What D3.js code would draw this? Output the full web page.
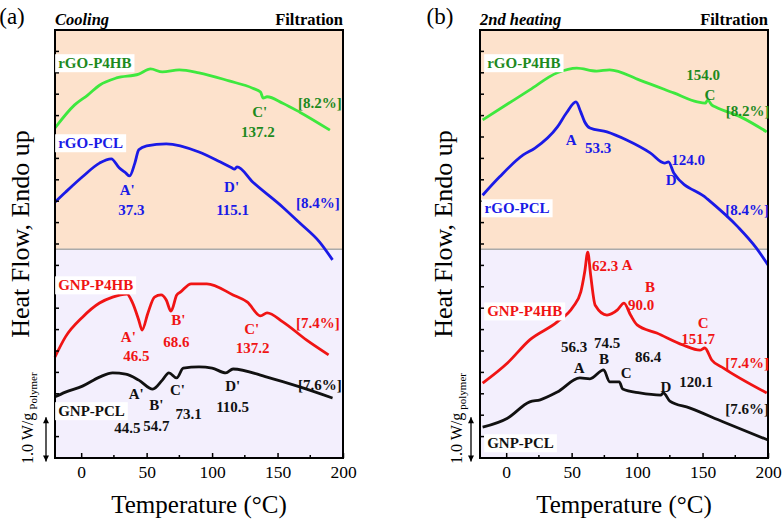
<!DOCTYPE html>
<html>
<head>
<meta charset="utf-8">
<script src="https://cdn.jsdelivr.net/npm/d3@7"></script>
<style>
  body { margin: 0; background: #fff; }
  svg text { font-family: "Liberation Serif", "Times New Roman", serif; }
</style>
</head>
<body>
<svg id="chart" width="782" height="520"></svg>
<script>
// ---- data: [temperature °C, heat flow (W/g, offset)] ----
var coolP4HB_rGO = [[-20,7.71],[-5,8.25],[5,8.48],[14,8.71],[27,8.88],[44,8.97],[53,9.09],[62,9.02],[75,9.07],[90,9.00],[113,8.81],[131,8.64],[137,8.55],[139,8.41],[142,8.44],[154,8.29],[167,8.08],[190,7.66]];
var coolPCL_rGO = [[-20,5.98],[-12,6.21],[1,6.57],[14,6.89],[23,6.99],[29,6.78],[34,6.66],[37,6.59],[41,6.89],[44,7.20],[50,7.29],[65,7.34],[90,7.15],[106,6.92],[115,6.78],[117,6.75],[119,6.80],[131,6.45],[154,5.86],[167,5.49],[182,5.05],[192,4.63]];
var coolP4HB_GNP = [[-20,2.36],[-12,2.83],[1,3.29],[14,3.62],[24,3.76],[35,3.83],[39,3.64],[44,3.22],[46.5,2.99],[51,3.39],[56,3.76],[61,3.81],[65,3.69],[68.6,3.43],[73,3.81],[76,3.88],[84,4.07],[96,4.07],[116,3.81],[127,3.64],[137,3.32],[142,3.39],[154,3.18],[172,2.76],[189,2.41]];
var coolPCL_GNP = [[-20,1.43],[-12,1.54],[1,1.68],[14,1.89],[24,1.99],[34,1.96],[44,1.82],[54.7,1.61],[62,1.82],[67,1.99],[73,1.87],[78,2.10],[90,2.13],[100,2.10],[110.5,1.99],[116,2.08],[142,1.89],[167,1.66],[192,1.40]];

var heatP4HB_rGO = [[-18,7.90],[1,8.27],[18,8.60],[39,9.00],[54,9.11],[69,9.04],[79,9.07],[102,8.83],[128,8.53],[146,8.32],[152,8.29],[154,8.36],[157,8.25],[160,8.20],[179,7.97],[199,7.62]];
var heatPCL_rGO = [[-18,6.14],[-5,6.57],[13,7.08],[22,7.24],[39,7.73],[46,8.06],[53.3,8.32],[57,8.08],[60,7.85],[64,7.71],[77,7.62],[92,7.43],[110,7.13],[121,6.89],[124,6.92],[128,6.66],[153,6.07],[177,5.40],[191,4.91],[200,4.51]];
var heatP4HB_GNP = [[-18,1.75],[1,2.22],[18,2.76],[39,3.18],[51,3.53],[57,3.88],[60,4.35],[62.3,4.81],[64.5,4.28],[68,3.57],[77,3.34],[85,3.46],[90,3.62],[95,3.34],[100,3.11],[115,2.92],[135,2.64],[148,2.52],[151.7,2.57],[157,2.29],[166,2.10],[199,1.52]];
var heatPCL_GNP = [[-18,0.72],[1,0.93],[18,1.31],[26,1.36],[39,1.54],[56.3,1.87],[64,1.85],[74.5,2.06],[79,1.78],[86.4,1.78],[89,1.61],[102,1.52],[118,1.47],[120.1,1.52],[125,1.33],[140,1.17],[166,0.84],[200,0.42]];

// sample names and colours
var names = ["rGO-P4HB", "rGO-PCL", "GNP-P4HB", "GNP-PCL"];
var lineColors = ["#3ee83e", "#1a1ae6", "#f01414", "#111111"];
var textColors = ["#1e8a1e", "#1a1ae6", "#f01414", "#111111"];

var xTicks = [0, 50, 100, 150, 200];
var xMinor = [25, 75, 125, 175];
var yTicks = d3.range(0.5, 10, 0.5);
var splitV = 4.88;

// annotations: [text, T, value, series index]
var coolNotes = [
  ["C'",136.4,8.08,0],["137.2",134.9,7.62,0],["[8.2%]",182.4,8.29,0],
  ["A'",35.2,6.26,1],["37.3",38.3,5.79,1],["D'",114.9,6.33,1],["115.1",115.7,5.79,1],["[8.4%]",180.8,5.96,1],
  ["A'",36,2.83,2],["46.5",42.1,2.38,2],["B'",74.3,3.22,2],["68.6",72.8,2.71,2],["C'",130.3,3.01,2],["137.2",131,2.57,2],["[7.4%]",180.8,3.15,2],
  ["A'",42.1,1.50,3],["B'",57.5,1.24,3],["C'",73.6,1.59,3],["D'",115.7,1.68,3],["[7.6%]",182.4,1.71,3],
  ["44.5",35.2,0.70,3],["54.7",57.5,0.75,3],["73.1",82,1.03,3],["110.5",115.7,1.19,3]
];
var heatNotes = [
  ["154.0",150.4,8.95,0],["C",155.7,8.48,0],["[8.2%]",184.5,8.11,0],
  ["A",49.6,7.43,1],["53.3",70.2,7.24,1],["124.0",138.9,6.96,1],["D",126,6.50,1],["[8.4%]",184,5.79,1],
  ["62.3",75.6,4.49,2],["A",92.4,4.51,2],["B",109.9,4.00,2],["90.0",103,3.57,2],["C",150.4,3.15,2],["151.7",146.6,2.78,2],["[7.4%]",184,2.22,2],
  ["56.3",51.9,2.59,3],["74.5",77.1,2.69,3],["86.4",108.4,2.36,3],["A",55.7,2.10,3],["B",74.8,2.31,3],["C",91.6,1.99,3],["D",122.1,1.66,3],["120.1",145,1.78,3],["[7.6%]",184,1.14,3]
];
// name labels: [T start, value]
var coolNameAt = [[-17.6,9.23],[-17.6,7.36],[-17.6,4.04],[-17.6,1.10]];
var heatNameAt = [[-14.5,9.23],[-16.5,5.84],[-14.5,3.43],[-14.5,0.35]];

var svg = d3.select("#chart");

var panels = [
  { left: 55, right: 343, tag: "(a)", tagX: 12, title: "Cooling", series: [coolP4HB_rGO, coolPCL_rGO, coolP4HB_GNP, coolPCL_GNP],
    notes: coolNotes, nameAt: coolNameAt, ylabX: 20, unitX: 27, sub: "Polymer" },
  { left: 480, right: 768, tag: "(b)", tagX: 440, title: "2nd heating", series: [heatP4HB_rGO, heatPCL_rGO, heatP4HB_GNP, heatPCL_GNP],
    notes: heatNotes, nameAt: heatNameAt, ylabX: 443, unitX: 456, sub: "polymer" }
];

var plotTop = 30, plotBottom = 458;

panels.forEach(function(p) {
  var x = d3.scaleLinear().domain([-20, 200]).range([p.left, p.right]);
  var y = d3.scaleLinear().domain([0, 10]).range([plotBottom, plotTop]);
  var g = svg.append("g");

  // backgrounds
  g.append("rect").attr("x", x(-20)).attr("y", y(10)).attr("width", x(200) - x(-20))
    .attr("height", y(splitV) - y(10)).attr("fill", "#fde2cc");
  g.append("rect").attr("x", x(-20)).attr("y", y(splitV)).attr("width", x(200) - x(-20))
    .attr("height", y(0) - y(splitV)).attr("fill", "#f3effd");
  g.append("line").attr("x1", x(-20)).attr("x2", x(200)).attr("y1", y(splitV)).attr("y2", y(splitV))
    .attr("stroke", "#aaaaaa").attr("stroke-width", 1.5);

  // curves
  var line = d3.line().x(function(d) { return x(d[0]); }).y(function(d) { return y(d[1]); })
    .curve(d3.curveMonotoneX);
  p.series.forEach(function(s, i) {
    g.append("path").datum(s).attr("d", line).attr("fill", "none")
      .attr("stroke", lineColors[i]).attr("stroke-width", 2.8).attr("stroke-linejoin", "round");
  });

  // y ticks (inward, no labels)
  g.selectAll(".yt").data(yTicks).enter().append("line")
    .attr("x1", x(-20)).attr("x2", x(-20) + 4)
    .attr("y1", function(d) { return y(d); }).attr("y2", function(d) { return y(d); })
    .attr("stroke", "#000").attr("stroke-width", 1.5);

  // x axis
  var xa = g.append("g").attr("transform", "translate(0," + plotBottom + ")")
    .call(d3.axisBottom(x).tickValues(xTicks).tickSize(-5).tickPadding(8).tickFormat(d3.format("d")));
  xa.select(".domain").remove();
  xa.selectAll("line").attr("stroke-width", 1.5);
  xa.selectAll("text").attr("font-size", 17.5).attr("font-family", "Liberation Serif, serif").attr("fill", "#000");
  g.selectAll(".xm").data(xMinor).enter().append("line")
    .attr("x1", function(d) { return x(d); }).attr("x2", function(d) { return x(d); })
    .attr("y1", plotBottom).attr("y2", plotBottom - 3).attr("stroke", "#000").attr("stroke-width", 1.5);

  // frame
  g.append("rect").attr("x", x(-20)).attr("y", plotTop).attr("width", x(200) - x(-20)).attr("height", plotBottom - plotTop)
    .attr("fill", "none").attr("stroke", "#000").attr("stroke-width", 2);

  // name labels on white boxes
  names.forEach(function(n, i) {
    var t = g.append("text").attr("x", x(p.nameAt[i][0])).attr("y", y(p.nameAt[i][1])).attr("dy", "0.35em")
      .attr("font-size", 15).attr("font-weight", "bold").attr("fill", textColors[i]).text(n);
    var b = t.node().getBBox();
    g.insert("rect", function() { return t.node(); })
      .attr("x", b.x - 3).attr("y", b.y - 1).attr("width", b.width + 6).attr("height", b.height + 2).attr("fill", "#fff");
  });

  // annotations
  g.selectAll(".note").data(p.notes).enter().append("text")
    .attr("x", function(d) { return x(d[1]); }).attr("y", function(d) { return y(d[2]); })
    .attr("dy", "0.35em").attr("text-anchor", "middle")
    .attr("font-size", 15).attr("font-weight", "bold")
    .attr("fill", function(d) { return textColors[d[3]]; })
    .text(function(d) { return d[0]; });

  // titles
  svg.append("text").attr("x", p.tagX).attr("y", 24).attr("text-anchor", "middle").attr("font-size", 23).text(p.tag);
  svg.append("text").attr("x", p.left).attr("y", 25).attr("font-size", 16.5).attr("font-weight", "bold")
    .attr("font-style", "italic").text(p.title);
  svg.append("text").attr("x", p.right).attr("y", 25).attr("text-anchor", "end").attr("font-size", 16.5)
    .attr("font-weight", "bold").text("Filtration");

  // axis titles
  svg.append("text").attr("x", (p.left + p.right) / 2).attr("y", 513).attr("text-anchor", "middle")
    .attr("font-size", 25).text("Temperature (°C)");
  svg.append("text").attr("transform", "translate(" + (p.ylabX + 9) + "," + 234 + ") rotate(-90)")
    .attr("text-anchor", "middle").attr("font-size", 26).text("Heat Flow, Endo up");

  // scale bar 1.0 W/g
  var ax = p.left - 9;
  svg.append("line").attr("x1", ax).attr("x2", ax).attr("y1", y(0.95)).attr("y2", y(-0.08))
    .attr("stroke", "#000").attr("stroke-width", 1.3);
  svg.append("path").attr("d", "M" + (ax - 3) + "," + (y(0.95) + 6) + "L" + ax + "," + y(0.95) + "L" + (ax + 3) + "," + (y(0.95) + 6) + "Z");
  svg.append("path").attr("d", "M" + (ax - 3) + "," + (y(-0.08) - 6) + "L" + ax + "," + y(-0.08) + "L" + (ax + 3) + "," + (y(-0.08) - 6) + "Z");
  var st = svg.append("text").attr("transform", "translate(" + (p.unitX + 6) + "," + 464 + ") rotate(-90)")
    .attr("font-size", 16);
  st.append("tspan").text("1.0 W/g");
  st.append("tspan").attr("dy", 4).attr("dx", 3).attr("font-size", 11).text(p.sub);
});
</script>
</body>
</html>
